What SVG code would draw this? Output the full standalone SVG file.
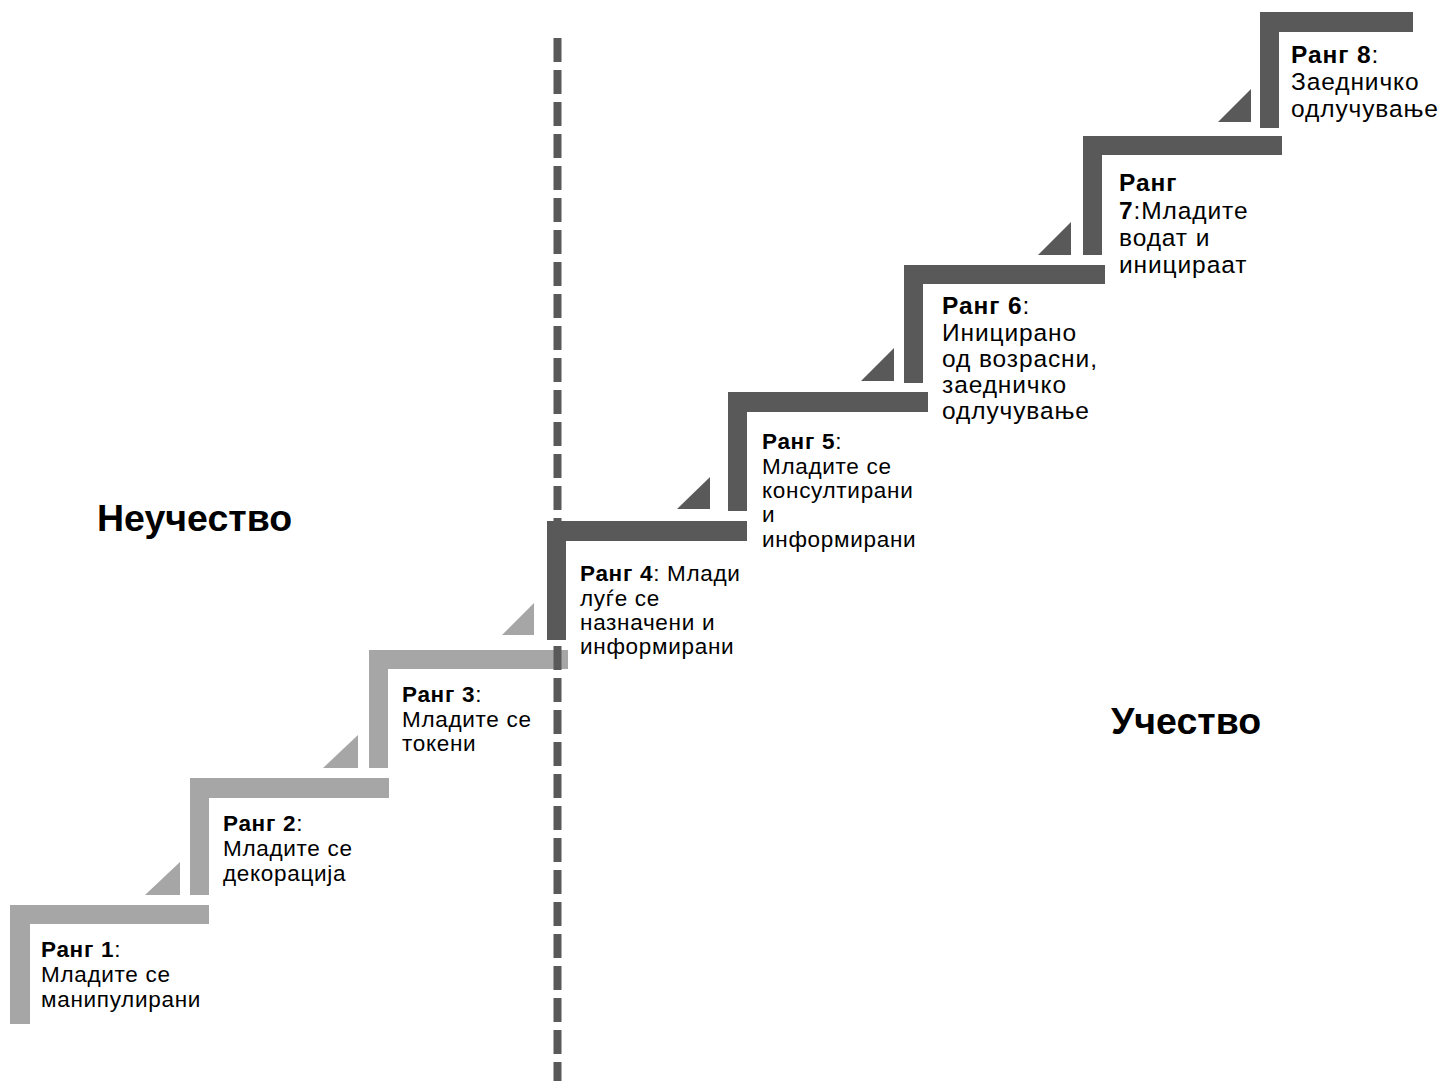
<svg xmlns="http://www.w3.org/2000/svg" width="1443" height="1081" viewBox="0 0 1443 1081">
<style>
.light{fill:#a6a6a6}
.dark{fill:#595959}
.t{font-family:"Liberation Sans",Arial,sans-serif;font-size:22.5px;letter-spacing:0.7px;fill:#000}
.t2{font-family:"Liberation Sans",Arial,sans-serif;font-size:24.5px;letter-spacing:0.9px;fill:#000}
.b{font-weight:bold}
.big{font-family:"Liberation Sans",Arial,sans-serif;font-size:37.5px;font-weight:bold;fill:#000}
</style>
<rect width="1443" height="1081" fill="#fff"/>
<g id="step1">
<path class="light" d="M10 905H209V924H30V1024H10Z"/>
<text class="t" x="41" y="957"><tspan class="b">Ранг 1</tspan>:<tspan x="41" y="982">Младите се</tspan><tspan x="41" y="1007">манипулирани</tspan></text>
</g>
<g id="step2">
<path class="light" d="M190 778H389V798H209V895H190Z"/>
<polygon class="light" points="145,895 180,895 180,862"/>
<text class="t" x="223" y="831"><tspan class="b">Ранг 2</tspan>:<tspan x="223" y="856">Младите се</tspan><tspan x="223" y="881">декорација</tspan></text>
</g>
<g id="step3">
<path class="light" d="M369 650H568V669H388V768H369Z"/>
<polygon class="light" points="323,768 358,768 358,735"/>
<text class="t" x="402" y="702"><tspan class="b">Ранг 3</tspan>:<tspan x="402" y="727">Младите се</tspan><tspan x="402" y="751">токени</tspan></text>
</g>
<g id="step4">
<path class="dark" d="M547 521H747V541H566V640H547Z"/>
<polygon class="light" points="502,635 534,635 534,603"/>
<text class="t" x="580" y="581"><tspan class="b">Ранг 4</tspan>: Млади<tspan x="580" y="606">луѓе се</tspan><tspan x="580" y="630">назначени и</tspan><tspan x="580" y="654">информирани</tspan></text>
</g>
<g id="step5">
<path class="dark" d="M728 392H928V412H747V511H728Z"/>
<polygon class="dark" points="677,509 710,509 710,477"/>
<text class="t" x="762" y="449"><tspan class="b">Ранг 5</tspan>:<tspan x="762" y="474">Младите се</tspan><tspan x="762" y="498">консултирани</tspan><tspan x="762" y="522">и</tspan><tspan x="762" y="547">информирани</tspan></text>
</g>
<g id="step6">
<path class="dark" d="M904 265H1105V284H923V383H904Z"/>
<polygon class="dark" points="861,381 894,381 894,348"/>
<text class="t2" x="942" y="314"><tspan class="b">Ранг 6</tspan>:<tspan x="942" y="341">Иницирано</tspan><tspan x="942" y="367">од возрасни,</tspan><tspan x="942" y="393">заедничко</tspan><tspan x="942" y="419">одлучување</tspan></text>
</g>
<g id="step7">
<path class="dark" d="M1083 136H1282V155H1102V255H1083Z"/>
<polygon class="dark" points="1038,255 1071,255 1071,222"/>
<text class="t2" x="1119" y="191"><tspan class="b">Ранг</tspan><tspan x="1119" y="219" class="b">7</tspan>:Младите<tspan x="1119" y="246">водат и</tspan><tspan x="1119" y="273">иницираат</tspan></text>
</g>
<g id="step8">
<path class="dark" d="M1260 12H1413V32H1279V128H1260Z"/>
<polygon class="dark" points="1218,122 1251,122 1251,89"/>
<text class="t2" x="1291" y="63"><tspan class="b">Ранг 8</tspan>:<tspan x="1291" y="90">Заедничко</tspan><tspan x="1291" y="117">одлучување</tspan></text>
</g>
<g id="connectors">
<line x1="557.5" y1="38" x2="557.5" y2="1081" stroke="#595959" stroke-width="8" stroke-dasharray="24 8"/>
</g>
<g id="labels">
<text class="big" x="97" y="531">Неучество</text>
<text class="big" x="1111" y="734">Учество</text>
</g>
</svg>
